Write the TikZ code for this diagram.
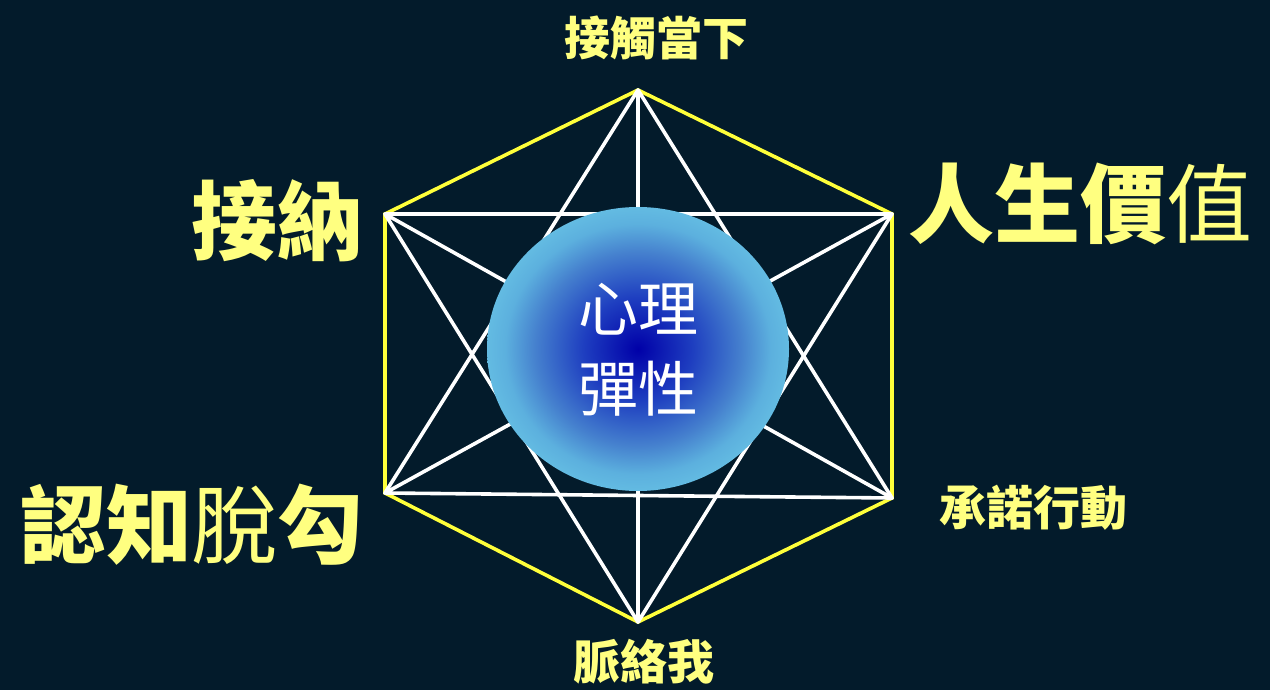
\documentclass[tikz,border=0pt]{standalone}
\usepackage{fontspec}
\newfontfamily\cjk{Noto Sans CJK TC}
\definecolor{bg}{HTML}{031B2B}
\definecolor{ytext}{HTML}{FFFF80}
\definecolor{yline}{HTML}{FFFF3A}
\definecolor{cA}{HTML}{0000A8}
\definecolor{cB}{HTML}{1E3EC0}
\definecolor{cC}{HTML}{4580CE}
\definecolor{cD}{HTML}{5CB0DE}
\definecolor{cE}{HTML}{63BBE2}
\pgfdeclareradialshading{ball}{\pgfpoint{0bp}{0bp}}{color(0bp)=(cA); color(9bp)=(cB); color(17bp)=(cC); color(22bp)=(cD); color(25bp)=(cE); color(50bp)=(cE)}
\tikzset{
  hexedge/.style={draw=yline, line width=3.6pt, line join=miter},
  diag/.style={draw=white, line width=3.6pt, line cap=round},
  lbl/.style={text=ytext, inner sep=0pt, font=\cjk\bfseries},
}
\begin{document}
\begin{tikzpicture}[x=1pt,y=-1pt]
\fill[bg] (0,0) rectangle (1270,690);
\useasboundingbox (0,0) rectangle (1270,690);
\coordinate (T) at (638,90);
\coordinate (UR) at (892,214);
\coordinate (LR) at (892,498);
\coordinate (B) at (638,622);
\coordinate (LL) at (385,493);
\coordinate (UL) at (385,214);
% hexagon
\draw[hexedge] (T) -- (UR) -- (LR) -- (B) -- (LL) -- (UL) -- cycle;
% diagonals
\draw[diag] (T) -- (LL) (T) -- (LR) (T) -- (B);
\draw[diag] (UL) -- (UR) (UL) -- (B) (UL) -- (LR);
\draw[diag] (LL) -- (UR) (LL) -- (LR);
\draw[diag] (UR) -- (B);
% central ball
\shade[shading=ball] (638,349) ellipse [x radius=151, y radius=142];
\node[text=white, inner sep=0pt, align=center, font=\cjk\fontsize{60}{80}\selectfont] (core) at (638,350) {心理\\彈性};
% labels
\node[lbl, font=\cjk\bfseries\fontsize{46}{50}\selectfont] (now) at (656,38) {接觸當下};
\node[lbl, font=\cjk\fontsize{86}{90}\selectfont] (val) at (1080,204) {{\bfseries 人生價}值};
\node[lbl, font=\cjk\bfseries\fontsize{86}{90}\selectfont] (acc) at (277,221) {接納};
\node[lbl, font=\cjk\fontsize{86}{90}\selectfont] (def) at (192,525) {{\bfseries 認知}脫{\bfseries 勾}};
\node[lbl, font=\cjk\bfseries\fontsize{47}{50}\selectfont] (act) at (1033,508) {承諾行動};
\node[lbl, font=\cjk\bfseries\fontsize{47}{50}\selectfont] (self) at (644,662) {脈絡我};
\end{tikzpicture}
\end{document}
